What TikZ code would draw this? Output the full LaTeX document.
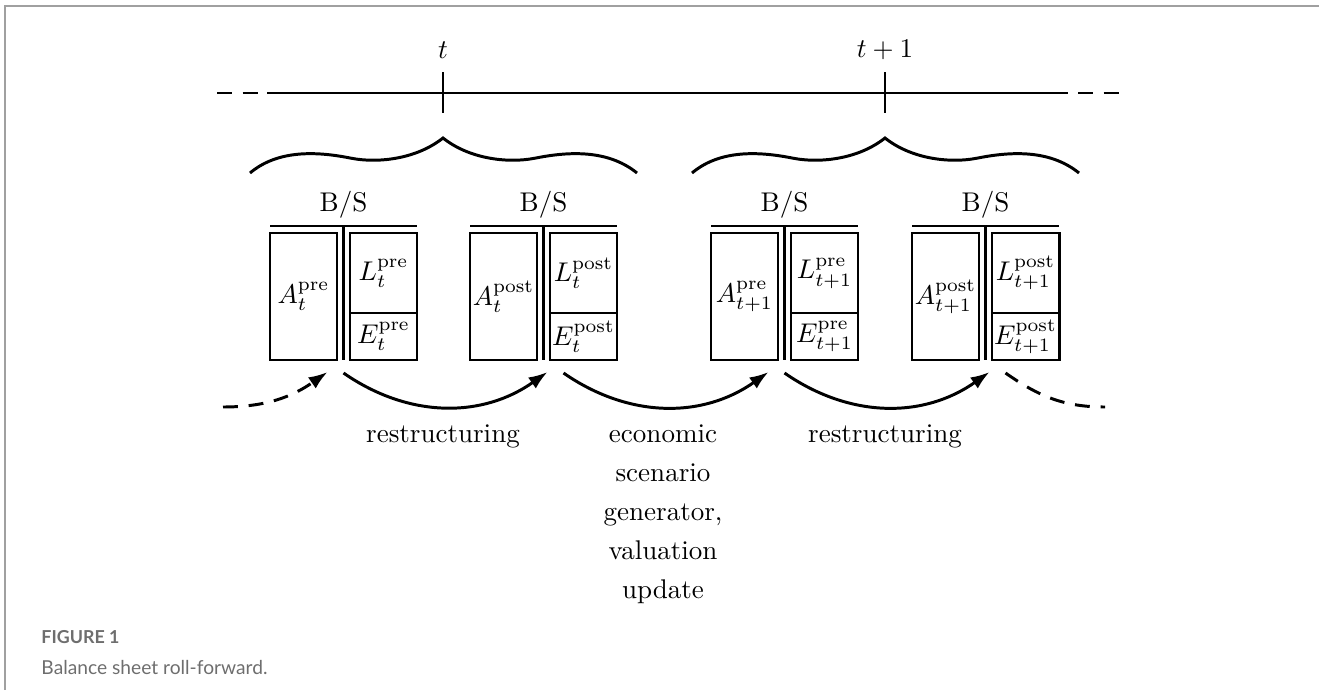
\documentclass[tikz,border=0pt]{standalone}
\usepackage{fontspec}
\newfontfamily\capfont{Lato}
\usetikzlibrary{arrows.meta}
\definecolor{gris}{HTML}{A0A0A0}
\definecolor{griscap}{HTML}{6E6E6E}

\begin{document}
\begin{tikzpicture}[x=0.013cm, y=-0.013cm, line width=1.1pt,
    caja/.style={draw, inner sep=0pt, minimum width=0.871cm},
    flecha/.style={-{Latex[length=7pt,width=5pt]}},
    discont/.style={dash pattern=on 5.5pt off 4pt}]
    \useasboundingbox (0,0) rectangle (1319,690);

    % Marco de la figura
    \draw[gris, line width=0.8pt] (5,690) -- (5,6) -- (1319,6);

    % Eje del tiempo
    \draw (267,93) -- (1068,93);
    \draw[discont] (217,93) -- (267,93); % tramo izquierdo
    \draw[discont] (1078,93) -- (1120,93); % tramo derecho
    \node (tnow) at (443,50) {$t$};
    \node (tnext) at (885,50) {$t+1$};
    \draw (443,72) -- (443,113); % marca en t
    \draw (885,72) -- (885,113); % marca en t+1

    % Llaves de cada periodo
    \foreach \c in {443,885} {
            \draw (\c-193,173) .. controls (\c-168,152) and (\c-133,150) .. (\c-93,158)
                .. controls (\c-63,164) and (\c-25,158) .. (\c,138)
                .. controls (\c+25,158) and (\c+63,164) .. (\c+93,158)
                .. controls (\c+133,150) and (\c+168,152) .. (\c+194,173);
        }

    % Balances
    \foreach \n/\x/\etapa/\tiempo/\din/\dout in {1/270/pre/t/-16/0, 2/470/post/t/4/20,
            3/711/pre/{t+1}/-16/0, 4/912/post/{t+1}/4/20} {
            \node (bs\n) at (\x+73.5,205) {B/S};
            \draw (\x,226) -- (\x+147,226);
            \draw (\x+73.5,226) -- (\x+73.5,360);
            \node[caja, minimum height=1.651cm] (A\n) at (\x+33.5,296.5) {$A^{\mathrm{\etapa}}_{\tiempo}$};
            \node[caja, minimum height=1.04cm] (L\n) at (\x+113.5,273) {$L^{\mathrm{\etapa}}_{\tiempo}$};
            \node[caja, minimum height=0.611cm] (E\n) at (\x+113.5,336.5) {$E^{\mathrm{\etapa}}_{\tiempo}$};
            \coordinate (in\n) at (\x+73.5+\din,372);
            \coordinate (out\n) at (\x+73.5+\dout,373);
        }

    % Flechas entre balances
    \coordinate (inicio) at (223,407);
    \coordinate (fin) at (1105,407);
    \draw[flecha, discont] (inicio) to[out=0, in=215] (in1);
    \draw[flecha] (out1) to[bend right=35] (in2);
    \draw[flecha] (out2) to[bend right=35] (in3);
    \draw[flecha] (out3) to[bend right=35] (in4);
    \draw[discont] (out4) to[out=-35, in=180] (fin);

    % Etiquetas de los pasos
    \node[anchor=base] (restr1) at (443,442) {restructuring};
    \node[anchor=base] (restr2) at (885,442) {restructuring};
    \node[anchor=base, align=center, font=\fontsize{10}{14.4}\selectfont] (esg) at (663,598)
        {economic\\scenario\\generator,\\valuation\\update};

    % Pie de figura
    \node[anchor=base west, inner sep=0pt, text=griscap, font=\capfont\bfseries\fontsize{6.6}{8}\selectfont] (fig) at (40,643) {FIGURE 1};
    \node[anchor=base west, inner sep=0pt, text=griscap, font=\capfont\fontsize{7.1}{8}\selectfont] (cap) at (40,674) {Balance sheet roll-forward.};
\end{tikzpicture}
\end{document}
